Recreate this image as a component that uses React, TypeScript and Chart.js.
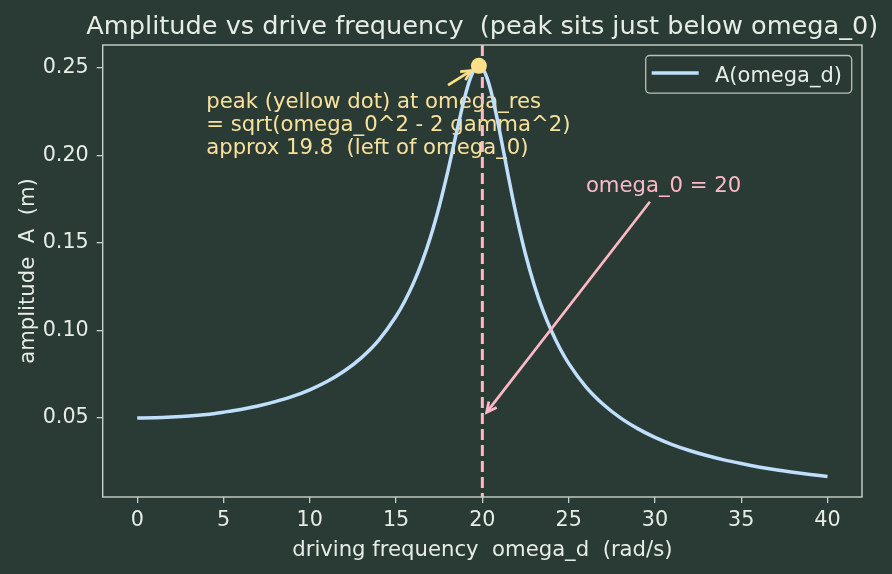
import React, { useEffect, useRef } from "react";
import { Chart, registerables } from "chart.js";

Chart.register(...registerables);

// Driving frequency (rad/s) and steady-state amplitude (m)
const omegaD = [
  0, 1, 2, 3, 4, 5, 6, 7, 8, 9, 10, 11, 12, 13, 14, 15,
  15.5, 16, 16.5, 17, 17.5, 17.75, 18, 18.25, 18.5, 18.75, 19, 19.25, 19.5, 19.65, 19.8, 19.9, 20,
  20.25, 20.5, 20.75, 21, 21.25, 21.5, 21.75, 22, 22.5, 23, 23.5, 24, 24.5, 25,
  26, 27, 28, 29, 30, 31, 32, 33, 34, 35, 36, 37, 38, 39, 40,
];
const amplitude = [
  0.05, 0.0501, 0.0505, 0.0511, 0.052, 0.0533, 0.0548, 0.0568, 0.0593, 0.0623, 0.0661, 0.0708, 0.0768, 0.0845, 0.0945, 0.1081,
  0.1167, 0.1269, 0.1391, 0.1536, 0.1709, 0.1807, 0.191, 0.2019, 0.2131, 0.224, 0.2341, 0.2426, 0.2486, 0.2506, 0.2513, 0.2509, 0.25,
  0.245, 0.2368, 0.2261, 0.214, 0.2012, 0.1884, 0.176, 0.1644, 0.1436, 0.1262, 0.1118, 0.0998, 0.0897, 0.0812,
  0.0678, 0.0578, 0.05, 0.0439, 0.0389, 0.0348, 0.0314, 0.0285, 0.026, 0.0239, 0.022, 0.0204, 0.019, 0.0177, 0.0165,
];

// Resonance peak and natural frequency
const peakOmega = [19.8];
const peakAmp = [0.2513];
const omega0 = 20;

const xTicks = [0, 5, 10, 15, 20, 25, 30, 35, 40];
const yTicks = [0.05, 0.1, 0.15, 0.2, 0.25];
const yTickLabels = ["0.05", "0.10", "0.15", "0.20", "0.25"];

const titleText = "Amplitude vs drive frequency  (peak sits just below omega_0)";
const xTitle = "driving frequency  omega_d  (rad/s)";
const yTitle = "amplitude  A  (m)";
const seriesLabel = "A(omega_d)";
const peakNote = [
  "peak (yellow dot) at omega_res",
  "= sqrt(omega_0^2 - 2 gamma^2)",
  "approx 19.8  (left of omega_0)",
];
const omega0Note = "omega_0 = 20";

const BG = "#2a3a34";
const FG = "#e6ede7";
const SPINE = "#c6d3ca";
const CURVE = "#bfdffd";
const PINK = "#ffb8c8";
const YELLOW = "#ffe08a";
const YELLOW_TEXT = "#f8e19c";
const FAMILY = "'DejaVu Sans', sans-serif";
const FS = 21.2;
const TICK_FS = 20.7;

function drawArrow(
  ctx: CanvasRenderingContext2D,
  x0: number, y0: number, x1: number, y1: number,
  shrink: number, color: string
) {
  const dx = x1 - x0, dy = y1 - y0;
  const L = Math.hypot(dx, dy);
  const ux = dx / L, uy = dy / L;
  const tx = x1 - ux * shrink, ty = y1 - uy * shrink;
  const hl = 10, hw = 5;
  const bx = tx - ux * hl, by = ty - uy * hl;
  const px = -uy, py = ux;
  ctx.save();
  ctx.strokeStyle = color;
  ctx.lineWidth = 2.7;
  ctx.lineCap = "butt";
  ctx.lineJoin = "miter";
  ctx.beginPath();
  ctx.moveTo(x0, y0);
  ctx.lineTo(tx, ty);
  ctx.stroke();
  ctx.beginPath();
  ctx.moveTo(bx + px * hw, by + py * hw);
  ctx.lineTo(tx, ty);
  ctx.lineTo(bx - px * hw, by - py * hw);
  ctx.stroke();
  ctx.restore();
}

const decor = {
  id: "decor",
  beforeDraw(chart: any) {
    const { ctx, width, height } = chart;
    ctx.save();
    ctx.fillStyle = BG;
    ctx.fillRect(0, 0, width, height);
    ctx.restore();
  },
  beforeDatasetsDraw(chart: any) {
    const { ctx, scales } = chart;
    const x = scales.x, y = scales.y;
    // multi-line note about the resonance peak
    const ax = x.getPixelForValue(4);
    const ay = y.getPixelForValue(0.2) - 1.5;
    ctx.save();
    ctx.font = `${FS}px ${FAMILY}`;
    ctx.fillStyle = YELLOW_TEXT;
    ctx.textAlign = "left";
    ctx.textBaseline = "alphabetic";
    const n = peakNote.length;
    peakNote.forEach((line, i) => {
      ctx.fillText(line, ax, ay - (n - 1 - i) * 23.2);
    });
    ctx.restore();
  },
  afterDatasetDraw(chart: any, args: any) {
    if (args.index !== 0) return;
    const { ctx, scales, chartArea } = chart;
    const px = scales.x.getPixelForValue(omega0);
    ctx.save();
    ctx.strokeStyle = PINK;
    ctx.lineWidth = 3;
    ctx.setLineDash([11, 5]);
    ctx.beginPath();
    ctx.moveTo(px, chartArea.top);
    ctx.lineTo(px, chartArea.bottom);
    ctx.stroke();
    ctx.restore();
  },
  afterDatasetsDraw(chart: any) {
    const { ctx, scales } = chart;
    const x = scales.x, y = scales.y;
    // arrow to the peak
    drawArrow(
      ctx,
      x.getPixelForValue(18.01), y.getPixelForValue(0.2403),
      x.getPixelForValue(peakOmega[0]), y.getPixelForValue(peakAmp[0]),
      9, YELLOW
    );
    // omega_0 label with arrow
    ctx.save();
    ctx.font = `${FS}px ${FAMILY}`;
    ctx.fillStyle = PINK;
    ctx.textAlign = "left";
    ctx.textBaseline = "alphabetic";
    ctx.fillText(omega0Note, x.getPixelForValue(26), y.getPixelForValue(0.18) + 1);
    ctx.restore();
    drawArrow(
      ctx,
      x.getPixelForValue(29.71), y.getPixelForValue(0.1736),
      x.getPixelForValue(omega0), y.getPixelForValue(0.05),
      7, PINK
    );
  },
  afterDraw(chart: any) {
    const { ctx, chartArea: a } = chart;
    ctx.save();
    // axes frame
    ctx.strokeStyle = SPINE;
    ctx.lineWidth = 1.4;
    ctx.strokeRect(a.left, a.top, a.right - a.left, a.bottom - a.top);

    const cx = (a.left + a.right) / 2;
    const cy = (a.top + a.bottom) / 2;

    // title
    ctx.fillStyle = FG;
    ctx.textBaseline = "alphabetic";
    ctx.textAlign = "center";
    ctx.font = `25.6px ${FAMILY}`;
    ctx.fillText(titleText, cx, 33.5);

    // axis titles
    ctx.font = `${FS}px ${FAMILY}`;
    ctx.fillText(xTitle, cx, 555.5);
    ctx.save();
    ctx.translate(34, cy);
    ctx.rotate(-Math.PI / 2);
    ctx.fillText(yTitle, 0, 0);
    ctx.restore();

    // legend
    const bw = 206, bh = 37.6;
    const bx = a.right - 10.3 - bw;
    const by = a.top + 10.5;
    ctx.beginPath();
    const r = 4;
    ctx.moveTo(bx + r, by);
    ctx.arcTo(bx + bw, by, bx + bw, by + bh, r);
    ctx.arcTo(bx + bw, by + bh, bx, by + bh, r);
    ctx.arcTo(bx, by + bh, bx, by, r);
    ctx.arcTo(bx, by, bx + bw, by, r);
    ctx.closePath();
    ctx.fillStyle = "rgba(42,58,52,0.8)";
    ctx.fill();
    ctx.strokeStyle = "rgba(205,218,208,0.85)";
    ctx.lineWidth = 1.3;
    ctx.stroke();
    ctx.strokeStyle = CURVE;
    ctx.lineWidth = 3.5;
    ctx.beginPath();
    ctx.moveTo(bx + 6, by + 17.6);
    ctx.lineTo(bx + 53, by + 17.6);
    ctx.stroke();
    ctx.fillStyle = FG;
    ctx.textAlign = "left";
    ctx.font = `21px ${FAMILY}`;
    ctx.fillText(chart.data.datasets[0].label, bx + 69.3, by + 26);
    ctx.restore();
  },
};

export default function App() {
  const ref = useRef<HTMLCanvasElement>(null);

  useEffect(() => {
    document.body.style.margin = "0";
    document.body.style.background = BG;
    const canvas = ref.current;
    if (!canvas) return;

    const tickFont = { family: FAMILY, size: TICK_FS };

    const chart = new Chart(canvas, {
      type: "line",
      data: {
        datasets: [
          {
            label: seriesLabel,
            data: omegaD.map((x, i) => ({ x, y: amplitude[i] })),
            borderColor: CURVE,
            borderWidth: 3.5,
            pointRadius: 0,
            cubicInterpolationMode: "monotone",
            fill: false,
            order: 2,
          },
          {
            label: "peak",
            data: peakOmega.map((x, i) => ({ x, y: peakAmp[i] })),
            showLine: false,
            pointRadius: 8,
            pointBackgroundColor: YELLOW,
            pointBorderColor: YELLOW,
            pointBorderWidth: 0,
            order: 1,
          },
        ],
      },
      options: {
        responsive: false,
        animation: false,
        devicePixelRatio: 1,
        events: [],
        layout: { padding: { top: 45, right: 30, left: 0, bottom: 0 } },
        plugins: {
          legend: { display: false },
          title: { display: false },
          tooltip: { enabled: false },
        },
        scales: {
          x: {
            type: "linear",
            min: -2,
            max: 42,
            afterBuildTicks: (s: any) => {
              s.ticks = xTicks.map((v) => ({ value: v }));
            },
            afterFit: (s: any) => {
              s.height = 77;
            },
            grid: {
              drawOnChartArea: false,
              drawTicks: true,
              tickLength: 6,
              color: SPINE,
              lineWidth: 1.3,
            },
            border: { display: false },
            ticks: {
              color: FG,
              font: tickFont,
              padding: 5,
              maxRotation: 0,
              autoSkip: false,
              callback: (v: any) => String(v),
            },
          },
          y: {
            type: "linear",
            min: 0.0048,
            max: 0.2632,
            afterBuildTicks: (s: any) => {
              s.ticks = yTicks.map((v) => ({ value: v }));
            },
            afterFit: (s: any) => {
              s.width = 102.7;
            },
            grid: {
              drawOnChartArea: false,
              drawTicks: true,
              tickLength: 6,
              color: SPINE,
              lineWidth: 1.3,
            },
            border: { display: false },
            ticks: {
              color: FG,
              font: tickFont,
              padding: 8,
              autoSkip: false,
              callback: (v: any) => {
                const i = yTicks.findIndex((t) => Math.abs(t - v) < 1e-9);
                return i >= 0 ? yTickLabels[i] : "";
              },
            },
          },
        },
      },
      plugins: [decor],
    } as any);

    return () => chart.destroy();
  }, []);

  return (
    <canvas
      ref={ref}
      width={892}
      height={574}
      style={{ display: "block", width: 892, height: 574 }}
    />
  );
}
